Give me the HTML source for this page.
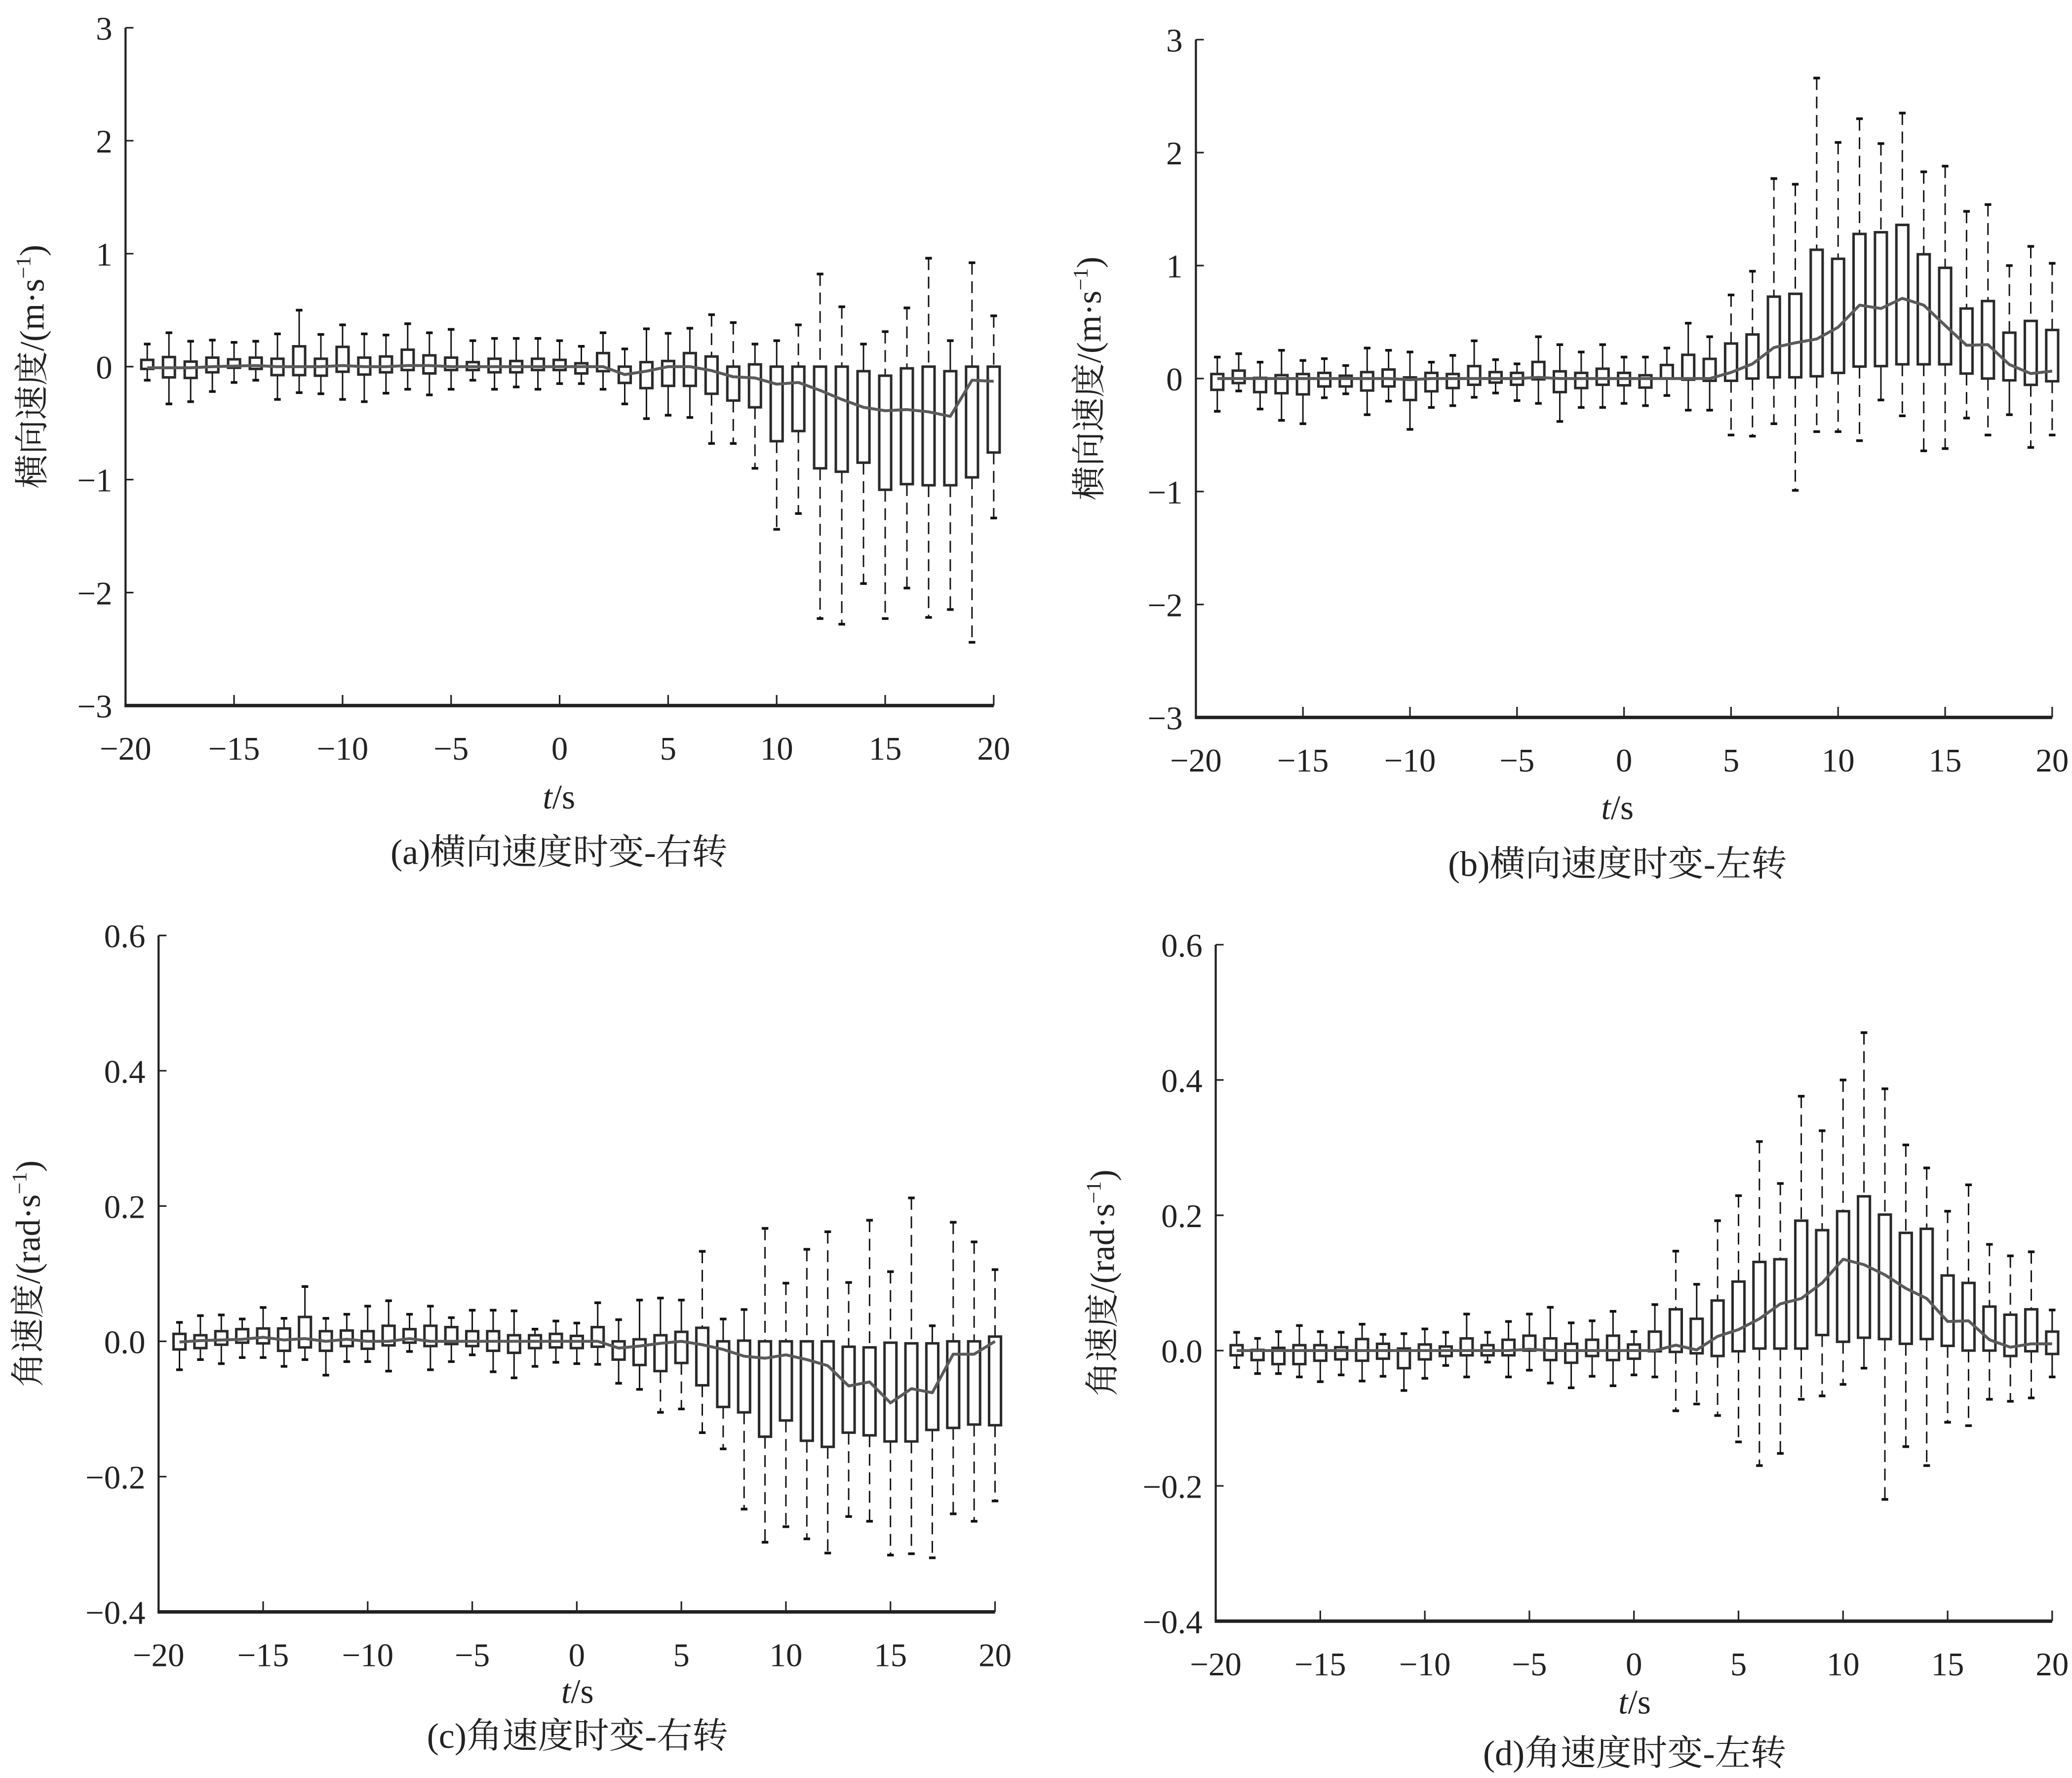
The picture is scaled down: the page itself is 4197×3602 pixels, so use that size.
<!DOCTYPE html>
<html><head><meta charset="utf-8"><style>
html,body{margin:0;padding:0;background:#fff;}
svg{display:block;}
text{font-family:"Liberation Serif","Noto Serif CJK SC",serif;fill:#222;}
</style></head><body>
<svg id="fig" xmlns="http://www.w3.org/2000/svg" width="4197" height="3602" viewBox="0 0 1568 1345.7"></svg>
<script>
const times = [-19,-18,-17,-16,-15,-14,-13,-12,-11,-10,-9,-8,-7,-6,-5,-4,-3,-2,-1,0,1,2,3,4,5,6,7,8,9,10,11,12,13,14,15,16,17,18,19,20];
const xTicks = [-20,-15,-10,-5,0,5,10,15,20];
const yTicksAB = [-3,-2,-1,0,1,2,3];
const yTicksCD = [-0.4,-0.2,0.0,0.2,0.4,0.6];

const aHi = [0.20,0.30,0.225,0.235,0.215,0.225,0.29,0.50,0.285,0.37,0.29,0.28,0.38,0.30,0.33,0.23,0.25,0.25,0.25,0.23,0.18,0.30,0.157,0.335,0.295,0.34,0.46,0.39,0.20,0.23,0.37,0.82,0.53,0.20,0.31,0.52,0.96,0.23,0.92,0.45];
const aQ3 = [0.06,0.085,0.045,0.08,0.065,0.08,0.07,0.18,0.07,0.175,0.08,0.09,0.15,0.10,0.08,0.04,0.07,0.05,0.07,0.06,0.03,0.12,0,0.04,0.05,0.12,0.09,0,0.02,0,0,0,0,-0.04,-0.08,-0.015,0,-0.04,0,0];
const aQ1 = [-0.02,-0.095,-0.10,-0.05,-0.01,-0.02,-0.075,-0.075,-0.08,-0.045,-0.07,-0.05,-0.03,-0.06,-0.03,-0.03,-0.05,-0.05,-0.03,-0.03,-0.06,-0.04,-0.144,-0.19,-0.17,-0.17,-0.24,-0.30,-0.36,-0.66,-0.57,-0.90,-0.93,-0.85,-1.09,-1.04,-1.05,-1.05,-0.98,-0.76];
const aLo = [-0.12,-0.33,-0.31,-0.22,-0.14,-0.12,-0.29,-0.23,-0.24,-0.29,-0.31,-0.235,-0.20,-0.25,-0.20,-0.12,-0.20,-0.18,-0.20,-0.15,-0.15,-0.20,-0.33,-0.46,-0.43,-0.45,-0.68,-0.68,-0.90,-1.44,-1.30,-2.23,-2.28,-1.92,-2.23,-1.96,-2.22,-2.15,-2.44,-1.34];
const aMean = [-0.01,-0.01,-0.01,0,0.005,0.01,0,0,0,0.01,0,0,0.01,0.01,0,0,0,0,0,0,0,0,-0.07,-0.04,0,0,-0.035,-0.09,-0.10,-0.155,-0.14,-0.21,-0.29,-0.36,-0.39,-0.38,-0.40,-0.44,-0.12,-0.13];

const bHi = [0.19,0.22,0.145,0.25,0.16,0.176,0.115,0.27,0.25,0.235,0.145,0.205,0.334,0.167,0.13,0.37,0.30,0.235,0.30,0.19,0.19,0.27,0.49,0.37,0.74,0.95,1.77,1.72,2.66,2.09,2.30,2.08,2.35,1.83,1.88,1.48,1.54,1.00,1.17,1.02];
const bQ3 = [0.04,0.07,0.006,0.03,0.04,0.05,0.025,0.057,0.08,0.01,0.05,0.04,0.11,0.057,0.05,0.147,0.064,0.05,0.087,0.05,0.029,0.12,0.21,0.174,0.31,0.39,0.725,0.75,1.14,1.06,1.28,1.295,1.36,1.10,0.98,0.62,0.686,0.406,0.51,0.43];
const bQ1 = [-0.10,-0.04,-0.12,-0.13,-0.14,-0.07,-0.07,-0.106,-0.07,-0.19,-0.113,-0.084,-0.055,-0.036,-0.055,-0.007,-0.12,-0.084,-0.055,-0.06,-0.08,0,-0.01,-0.02,-0.02,0,0.011,0.011,0.02,0.05,0.106,0.11,0.126,0.126,0.126,0.044,0,-0.016,-0.056,-0.024];
const bLo = [-0.29,-0.11,-0.27,-0.37,-0.40,-0.17,-0.135,-0.32,-0.20,-0.45,-0.256,-0.24,-0.166,-0.128,-0.195,-0.22,-0.38,-0.256,-0.256,-0.22,-0.24,-0.15,-0.28,-0.28,-0.50,-0.51,-0.40,-0.99,-0.47,-0.47,-0.55,-0.19,-0.33,-0.64,-0.62,-0.35,-0.50,-0.32,-0.61,-0.50];
const bMean = [0,0,0,0,0,0,0,0,0,-0.01,0,0,0,0,0,0.01,0,0,0,0,0,0,0,0,0.054,0.13,0.274,0.316,0.35,0.454,0.65,0.62,0.71,0.65,0.47,0.294,0.30,0.124,0.044,0.066];

const cHi = [0.028,0.038,0.039,0.033,0.05,0.034,0.081,0.034,0.04,0.052,0.06,0.04,0.052,0.035,0.046,0.046,0.045,0.018,0.03,0.027,0.057,0.032,0.061,0.064,0.061,0.133,0.033,0.047,0.167,0.086,0.136,0.162,0.087,0.179,0.103,0.212,0.023,0.176,0.147,0.106];
const cQ3 = [0.011,0.009,0.015,0.018,0.019,0.019,0.036,0.015,0.016,0.015,0.023,0.018,0.023,0.021,0.015,0.015,0.009,0.009,0.011,0.008,0.021,0,0.003,0.009,0.014,0.020,0,0.001,0,0,0,0,-0.008,-0.009,-0.002,-0.003,-0.003,0,0,0.007];
const cQ1 = [-0.012,-0.010,-0.005,-0.002,-0.003,-0.014,-0.009,-0.014,-0.007,-0.011,-0.006,-0.002,-0.007,-0.004,-0.007,-0.014,-0.017,-0.010,-0.009,-0.010,-0.008,-0.027,-0.035,-0.044,-0.032,-0.065,-0.097,-0.105,-0.141,-0.117,-0.147,-0.156,-0.135,-0.139,-0.148,-0.148,-0.131,-0.128,-0.123,-0.124];
const cLo = [-0.042,-0.027,-0.033,-0.024,-0.024,-0.037,-0.027,-0.05,-0.03,-0.03,-0.044,-0.015,-0.042,-0.03,-0.02,-0.045,-0.054,-0.037,-0.031,-0.033,-0.034,-0.062,-0.071,-0.105,-0.10,-0.135,-0.159,-0.248,-0.297,-0.274,-0.292,-0.313,-0.259,-0.266,-0.316,-0.314,-0.320,-0.255,-0.266,-0.236];
const cMean = [-0.001,0.001,0.002,0.003,0.006,0.002,0.004,0,0.003,0,0,0.004,0,0,0,0,0,0,0,0,0,-0.010,-0.007,-0.003,0,-0.005,-0.012,-0.022,-0.025,-0.020,-0.027,-0.036,-0.066,-0.060,-0.091,-0.070,-0.076,-0.019,-0.019,0];

const dHi = [0.027,0.018,0.028,0.037,0.028,0.027,0.039,0.024,0.025,0.032,0.027,0.054,0.027,0.043,0.054,0.064,0.041,0.044,0.058,0.028,0.068,0.147,0.098,0.192,0.229,0.309,0.247,0.376,0.325,0.40,0.47,0.387,0.304,0.270,0.206,0.245,0.157,0.140,0.146,0.060];
const dQ3 = [0.008,0.001,0.004,0.008,0.008,0.005,0.017,0.010,0.003,0.009,0.006,0.018,0.008,0.016,0.022,0.018,0.010,0.016,0.022,0.009,0.028,0.061,0.047,0.074,0.102,0.131,0.135,0.192,0.178,0.206,0.228,0.201,0.174,0.180,0.111,0.10,0.065,0.053,0.061,0.028];
const dQ1 = [-0.007,-0.014,-0.020,-0.020,-0.015,-0.013,-0.015,-0.012,-0.026,-0.013,-0.008,-0.007,-0.007,-0.007,0,-0.014,-0.018,-0.008,-0.014,-0.012,-0.001,-0.002,-0.004,-0.008,-0.001,0.003,0.003,0.003,0.023,0.013,0.019,0.017,0.010,0.017,0.007,0,0,-0.008,-0.001,-0.005];
const dLo = [-0.025,-0.034,-0.034,-0.039,-0.046,-0.036,-0.045,-0.038,-0.059,-0.041,-0.022,-0.039,-0.017,-0.039,-0.029,-0.048,-0.055,-0.038,-0.052,-0.036,-0.039,-0.089,-0.079,-0.096,-0.135,-0.17,-0.152,-0.072,-0.067,-0.050,-0.026,-0.22,-0.142,-0.17,-0.106,-0.111,-0.072,-0.075,-0.070,-0.039];
const dMean = [0,0,0,0,0,0,0,0,0,0,0,0,0,0,0.002,0,0,0,0,0,0,0.008,0.001,0.021,0.031,0.047,0.069,0.077,0.10,0.135,0.127,0.112,0.092,0.077,0.043,0.044,0.016,0.005,0.01,0.01];

const NS = 'http://www.w3.org/2000/svg';
const svg = document.getElementById('fig');
function mk(tag, attrs, parent) {
  const e = document.createElementNS(NS, tag);
  for (const k in attrs) e.setAttribute(k, attrs[k]);
  (parent || svg).appendChild(e);
  return e;
}
function fmt(v, dec) {
  const s = Math.abs(v).toFixed(dec);
  return (v < -1e-9 ? '\u2212' : '') + s;
}

function panel(cfg) {
  const g = mk('g', {});
  
  
  const xs = t => cfg.x0 + (t + 20) / 40 * (cfg.x1 - cfg.x0);
  const ys = v => cfg.yb - (v - cfg.ymin) / (cfg.ymax - cfg.ymin) * (cfg.yb - cfg.yt);

  const yax = mk('line', {x1: cfg.x0, y1: cfg.yt, x2: cfg.x0, y2: cfg.yb, stroke: '#222', 'stroke-width': 1.6}, g);
  
  
  const xax = mk('line', {x1: cfg.x0 - 0.8, y1: cfg.yb, x2: cfg.x1, y2: cfg.yb, stroke: '#222', 'stroke-width': 2.6}, g);
  
  

  cfg.yTicks.forEach(v => {
    const y = ys(v);
    mk('line', {x1: cfg.x0, y1: y, x2: cfg.x0 + 6, y2: y, stroke: '#222', 'stroke-width': 1.2}, g);
    const tx = mk('text', {x: cfg.x0 - 10, y: y + 9, 'font-size': 25, 'text-anchor': 'end'}, g);
    
    
    tx.textContent = fmt(v, cfg.dec);
  });
  xTicks.forEach(t => {
    const x = xs(t);
    mk('line', {x1: x, y1: cfg.yb, x2: x, y2: cfg.yb - 8, stroke: '#222', 'stroke-width': 1.2}, g);
    const tx = mk('text', {x: x, y: cfg.yb + 41, 'font-size': 25, 'text-anchor': 'middle'}, g);
    
    
    tx.textContent = fmt(t, 0);
  });

  const bw = 9;
  times.forEach((t, i) => {
    const x = xs(t);
    const yHi = ys(cfg.hi[i]), yQ3 = ys(cfg.q3[i]), yQ1 = ys(cfg.q1[i]), yLo = ys(cfg.lo[i]);
    const top = Math.min(yQ3, yQ1), bot = Math.max(yQ3, yQ1);
    const up = mk('line', {x1: x, y1: yHi, x2: x, y2: top, stroke: '#111', 'stroke-width': 1.1}, g);
    if (top - yHi > 30) up.setAttribute('stroke-dasharray', '9,5');
    
    
    const dn = mk('line', {x1: x, y1: bot, x2: x, y2: yLo, stroke: '#111', 'stroke-width': 1.1}, g);
    if (yLo - bot > 30) dn.setAttribute('stroke-dasharray', '9,5');
    
    
    const c1 = mk('line', {x1: x - 2.5, y1: yHi, x2: x + 2.5, y2: yHi, stroke: '#111', 'stroke-width': 2}, g);
    
    
    const c2 = mk('line', {x1: x - 2.5, y1: yLo, x2: x + 2.5, y2: yLo, stroke: '#111', 'stroke-width': 2}, g);
    
    
    const r = mk('rect', {x: x - bw / 2, y: top, width: bw, height: Math.max(bot - top, 1.5), fill: '#fff', stroke: '#2a2a2a', 'stroke-width': 1.9}, g);
    
    
  });

  const pts = times.map((t, i) => xs(t).toFixed(2) + ',' + ys(cfg.mean[i]).toFixed(2)).join(' ');
  const pl = mk('polyline', {points: pts, fill: 'none', stroke: '#5a5a5a', 'stroke-width': 2.2, 'stroke-linejoin': 'round'}, g);
  
  

  const yl = mk('text', {x: 0, y: 0, 'font-size': 26, 'text-anchor': 'middle', transform: 'translate(' + cfg.ylx + ',' + ((cfg.yt + cfg.yb) / 2) + ') rotate(-90)'}, g);
  
  
  yl.appendChild(document.createTextNode(cfg.ylabel));
  const sup = mk('tspan', {dy: -10, 'font-size': 16}, yl);
  sup.textContent = '\u22121';
  const tail = mk('tspan', {dy: 10}, yl);
  tail.textContent = ')';

  const xl = mk('text', {x: cfg.cx, y: cfg.xly, 'font-size': 26, 'text-anchor': 'middle'}, g);
  
  
  const it = mk('tspan', {'font-style': 'italic'}, xl);
  it.textContent = 't';
  const rest = mk('tspan', {}, xl);
  rest.textContent = '/s';

  const cap = mk('text', {x: cfg.cx, y: cfg.capy, 'font-size': 27, 'text-anchor': 'middle'}, g);
  
  
  cap.textContent = cfg.caption;
}

panel({name: 'panel-a', x0: 95, x1: 752, yt: 21, yb: 534, ymin: -3, ymax: 3, yTicks: yTicksAB, dec: 0,
  hi: aHi, q3: aQ3, q1: aQ1, lo: aLo, mean: aMean, ylx: 33, ylabel: '横向速度/(m·s', cx: 423, xly: 612, capy: 654, caption: '(a)横向速度时变-右转'});
panel({name: 'panel-b', x0: 905, x1: 1553, yt: 30, yb: 543, ymin: -3, ymax: 3, yTicks: yTicksAB, dec: 0,
  hi: bHi, q3: bQ3, q1: bQ1, lo: bLo, mean: bMean, ylx: 833, ylabel: '横向速度/(m·s', cx: 1224, xly: 620, capy: 663, caption: '(b)横向速度时变-左转'});
panel({name: 'panel-c', x0: 120, x1: 753, yt: 708, yb: 1220, ymin: -0.4, ymax: 0.6, yTicks: yTicksCD, dec: 1,
  hi: cHi, q3: cQ3, q1: cQ1, lo: cLo, mean: cMean, ylx: 30, ylabel: '角速度/(rad·s', cx: 437, xly: 1289, capy: 1323, caption: '(c)角速度时变-右转'});
panel({name: 'panel-d', x0: 920, x1: 1553, yt: 715, yb: 1227, ymin: -0.4, ymax: 0.6, yTicks: yTicksCD, dec: 1,
  hi: dHi, q3: dQ3, q1: dQ1, lo: dLo, mean: dMean, ylx: 843, ylabel: '角速度/(rad·s', cx: 1237, xly: 1297, capy: 1336, caption: '(d)角速度时变-左转'});
</script>
</body></html>
